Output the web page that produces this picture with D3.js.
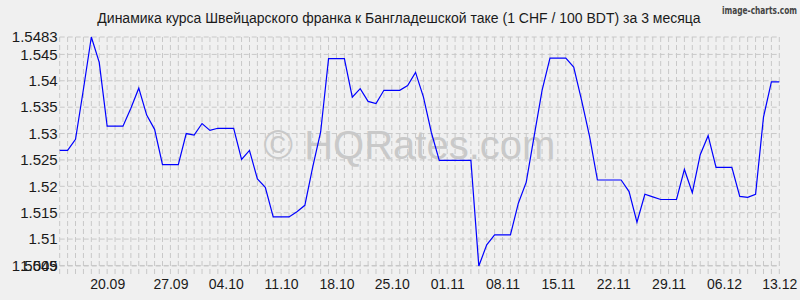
<html>
<head>
<meta charset="utf-8">
<title>CHF / BDT</title>
<script src="https://d3js.org/d3.v7.min.js"></script>
<style>
body { margin: 0; background: #f0f0f0; }
svg { display: block; font-family: "Liberation Sans", Arial, sans-serif; }
.grid line { stroke: #c8c8c8; stroke-width: 1; stroke-dasharray: 5,3; }
.axis text { fill: #1a1a1a; }
.line { fill: none; stroke: #0000ff; stroke-width: 1.2; }
</style>
</head>
<body>
<script>

// курс CHF/BDT, одна точка на день (92 точки)
var rates = [
  1.5268, 1.5268, 1.5289, 1.5384, 1.5483, 1.5435, 1.5314, 1.5314, 1.5314, 1.5348,
  1.5386, 1.5335, 1.5308, 1.5241, 1.5241, 1.5241, 1.5300, 1.5297, 1.5319, 1.5306,
  1.5310, 1.5310, 1.5310, 1.5251, 1.5268, 1.5214, 1.5198, 1.5142, 1.5142, 1.5142,
  1.5152, 1.5164, 1.5237, 1.5303, 1.5442, 1.5442, 1.5442, 1.5369, 1.5385, 1.5361,
  1.5357, 1.5382, 1.5382, 1.5382, 1.5391, 1.5416, 1.5369, 1.5302, 1.5249, 1.5249,
  1.5249, 1.5249, 1.5249, 1.5049, 1.5089, 1.5108, 1.5108, 1.5108, 1.5168, 1.5208,
  1.5295, 1.5382, 1.5443, 1.5443, 1.5443, 1.5426, 1.5363, 1.5295, 1.5212, 1.5212,
  1.5212, 1.5212, 1.5190, 1.5132, 1.5185, 1.5180, 1.5175, 1.5175, 1.5175, 1.5232,
  1.5188, 1.5260, 1.5296, 1.5236, 1.5236, 1.5236, 1.5181, 1.5179, 1.5185, 1.5331,
  1.5398, 1.5398
];

var xTickIndex = [6, 14, 21, 28, 35, 42, 49, 56, 63, 70, 77, 84, 91];
var xTickLabels = ["20.09", "27.09", "04.10", "11.10", "18.10", "25.10", "01.11",
                   "08.11", "15.11", "22.11", "29.11", "06.12", "13.12"];

var yTicks = [1.5049, 1.505, 1.51, 1.515, 1.52, 1.525, 1.53, 1.535, 1.54, 1.545, 1.5483];
var yMin = 1.5049, yMax = 1.5483;

var title = "Динамика курса Швейцарского франка к Бангладешской таке (1 CHF / 100 BDT) за 3 месяца";

var width = 800, height = 300;
var margin = {top: 37, right: 20.7, bottom: 34, left: 59.7};

var svg = d3.select("body").append("svg")
    .attr("width", width)
    .attr("height", height);

svg.append("rect")
    .attr("width", width)
    .attr("height", height)
    .attr("fill", "#f0f0f0");

var x = d3.scaleLinear()
    .domain([0, rates.length - 1])
    .range([margin.left, width - margin.right]);

var y = d3.scaleLinear()
    .domain([yMin, yMax])
    .range([height - margin.bottom, margin.top]);

// grid: a vertical dashed line on every day, horizontal on every tick
var grid = svg.append("g").attr("class", "grid");

grid.selectAll(".v")
    .data(d3.range(rates.length))
  .enter().append("line")
    .attr("class", "v")
    .attr("x1", function(d) { return x(d); })
    .attr("x2", function(d) { return x(d); })
    .attr("y1", y(yMax))
    .attr("y2", y(yMin) + 10);

grid.selectAll(".h")
    .data(yTicks)
  .enter().append("line")
    .attr("class", "h")
    .attr("x1", x(0))
    .attr("x2", x(rates.length - 1))
    .attr("y1", function(d) { return y(d); })
    .attr("y2", function(d) { return y(d); });

// watermark
svg.append("text")
    .attr("x", (x(0) + x(rates.length - 1)) / 2 - 10)
    .attr("y", 159)
    .attr("text-anchor", "middle")
    .attr("font-size", 40)
    .attr("fill", "#c9c9c9")
    .text("© HQRates.com");

// the line
var line = d3.line()
    .x(function(d, i) { return x(i); })
    .y(function(d) { return y(d); });

svg.append("path")
    .datum(rates)
    .attr("class", "line")
    .attr("d", line);

// axes
var xAxis = svg.append("g")
    .attr("class", "axis")
    .attr("transform", "translate(0," + (height - margin.bottom) + ")")
    .call(d3.axisBottom(x)
      .tickValues(xTickIndex)
      .tickFormat(function(d, i) { return xTickLabels[i]; })
      .tickSize(0)
      .tickPadding(13));
xAxis.select(".domain").remove();
xAxis.selectAll("text").attr("font-size", 14).attr("font-family", null);

var yAxis = svg.append("g")
    .attr("class", "axis")
    .attr("transform", "translate(" + (margin.left - 2) + ",0)")
    .call(d3.axisLeft(y)
      .tickValues(yTicks)
      .tickFormat(function(d) { return String(d); })
      .tickSize(0)
      .tickPadding(0));
yAxis.select(".domain").remove();
yAxis.selectAll("text").attr("font-size", 15).attr("font-family", null);

// title
svg.append("text")
    .attr("x", 399)
    .attr("y", 23)
    .attr("text-anchor", "middle")
    .attr("font-size", 14)
    .attr("fill", "#1a1a1a")
    .text(title);

svg.append("text")
    .attr("x", 797)
    .attr("y", 14)
    .attr("text-anchor", "end")
    .attr("font-size", 11)
    .attr("font-weight", "bold")
    .attr("font-family", "DejaVu Sans Condensed, sans-serif")
    .attr("fill", "#444")
    .attr("textLength", 75)
    .attr("lengthAdjust", "spacingAndGlyphs")
    .text("image-charts.com");

</script>
</body>
</html>
